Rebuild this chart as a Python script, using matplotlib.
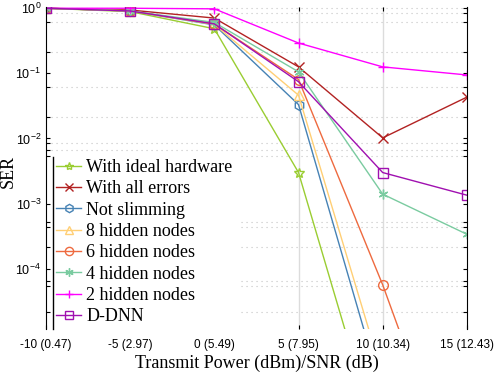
import matplotlib
matplotlib.use("Agg")
import matplotlib.pyplot as plt
import numpy as np

# x 轴：发射功率 (dBm)，括号内为 SNR
power = [-10, -5, 0, 5, 10, 15]
tick_labels = ['-10 (0.47)', '-5 (2.97)', '0 (5.49)', '5 (7.95)', '10 (10.34)', '15 (12.43)']

ideal = [0.99, 0.88, 0.48, 3.0e-3, 1.3e-7, np.nan]
all_errors = [0.99, 0.93, 0.70, 0.125, 0.0102, 0.043]
not_slim = [0.99, 0.90, 0.55, 0.033, 1.2e-6, np.nan]
h8 = [0.99, 0.90, 0.56, 0.046, 2.3e-6, np.nan]
h6 = [0.99, 0.90, 0.57, 0.080, 5.7e-5, 1.6e-8]
h4 = [0.99, 0.90, 0.60, 0.105, 1.4e-3, 3.4e-4]
h2 = [0.99, 0.99, 0.97, 0.29, 0.125, 0.094]
ddnn = [0.99, 0.90, 0.57, 0.074, 3.0e-3, 1.35e-3]

fig = plt.figure(figsize=(4.94, 3.72), dpi=100)
ax = fig.add_axes([0.0931, 0.1156, 0.852, 0.8656])

series = [
    (ideal, 'With ideal hardware', '#9ACD32', '*'),
    (all_errors, 'With all errors', '#B22222', 'x'),
    (not_slim, 'Not slimming', '#4682B4', 'h'),
    (h8, '8 hidden nodes', '#FFCF75', '^'),
    (h6, '6 hidden nodes', '#EE6A3F', 'o'),
    (h4, '4 hidden nodes', '#7ACBA0', (6, 2, 0)),
    (h2, '2 hidden nodes', '#FF00FF', '+'),
    (ddnn, 'D-DNN', '#A010B0', 's'),
]
for vals, lab, c, m in series:
    ax.plot(power, vals, color=c, marker=m, markersize=7, markerfacecolor='none',
            markeredgecolor=c, linewidth=1.0, label=lab)

ax.set_yscale('log')
ax.set_xlim(-10, 15)
ax.set_ylim(1.2e-5, 1.035)

# 网格线
for xv in [5, 10]:
    ax.axvline(xv, color='#DCDCDC', linewidth=1.0, zorder=0)
minor_pos = [0.838, 0.61, 0.212, 0.0615, 0.0213, 0.00853, 0.00667, 0.0054,
             5.25e-4, 4.4e-4, 2.2e-4, 6.6e-5, 5.5e-5, 2.2e-5]
ax.set_yticks([1, 1e-1, 1e-2, 1e-3, 1e-4])
ax.set_yticklabels(['$\\mathregular{10^{0}}$', '$\\mathregular{10^{-1}}$', '$\\mathregular{10^{-2}}$',
                    '$\\mathregular{10^{-3}}$', '$\\mathregular{10^{-4}}$'], family='Liberation Sans', fontsize=9)
ax.set_yticks(minor_pos, minor=True)
ax.yaxis.set_minor_formatter(matplotlib.ticker.NullFormatter())
for yv in minor_pos + [1.0]:
    ax.axhline(yv, color='#C4C4C4', linewidth=0.8, linestyle=(0, (1, 3.5)), zorder=0)

ax.set_xticks(power)
ax.set_xticklabels(tick_labels, family='Liberation Sans', fontsize=8.5)
ax.tick_params(which='both', direction='in', top=True, right=True, length=3, width=0.8)
ax.tick_params(axis='x', pad=7)
ax.spines['top'].set_visible(False)
ax.spines['bottom'].set_visible(False)

ax.set_xlabel('Transmit Power (dBm)/SNR (dB)', family='Liberation Serif', fontsize=13, labelpad=3)
ax.set_ylabel('SER', family='Liberation Serif', fontsize=13)
ax.yaxis.set_label_coords(-0.07, 0.49)

leg = ax.legend(loc='lower left', bbox_to_anchor=(0.012, -0.005), prop={'family': 'Liberation Serif', 'size': 13},
                frameon=True, fancybox=False, handlelength=1.35, handletextpad=0.3, markerscale=0.85,
                labelspacing=0.24, borderaxespad=0, borderpad=0.3)
leg.get_frame().set_edgecolor('none')
leg.get_frame().set_facecolor('white')
leg.get_frame().set_alpha(1)
ax.plot([0.017, 0.017], [0.0, 0.534], transform=ax.transAxes, color='black', linewidth=1.0,
        clip_on=False, zorder=10)

fig.savefig('out.png', dpi=100)
